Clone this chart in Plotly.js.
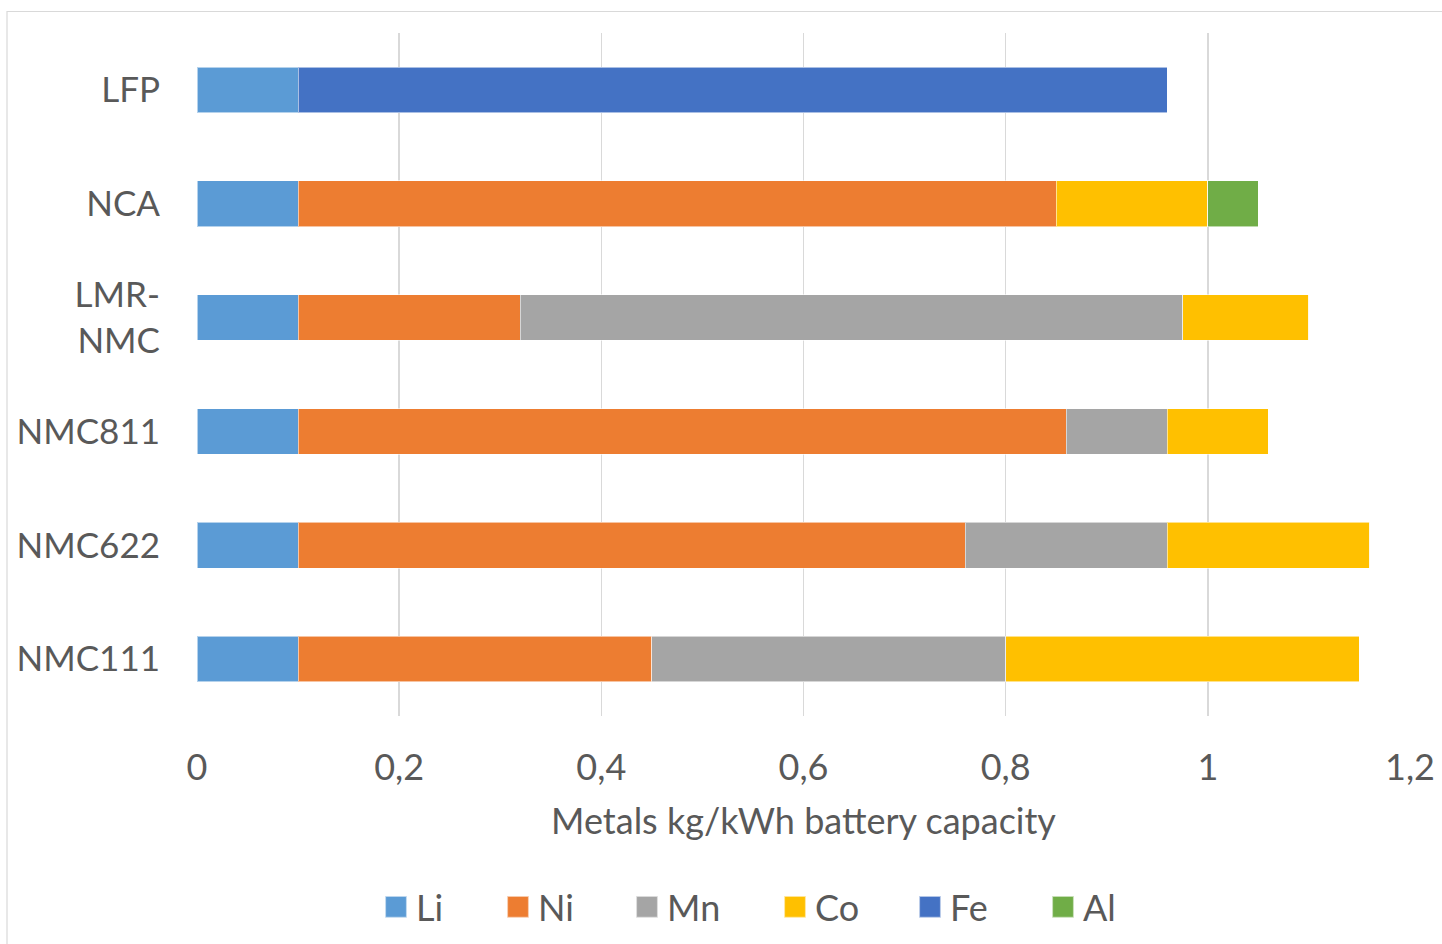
<!DOCTYPE html>
<html>
<head>
<meta charset="utf-8">
<script src="https://cdn.plot.ly/plotly-3.0.1.min.js"></script>
<style>
  html, body { margin: 0; padding: 0; background: #ffffff; }
  #chart { width: 1442px; height: 944px; }
  /* larger legend swatches */
  #chart .legendpoints path { transform: translate(20px, 0) scale(1.8); }
</style>
</head>
<body>
<div id="chart"></div>
<script>
// Battery chemistries, listed top to bottom
const chemistries = ['LFP', 'NCA', 'LMR-NMC', 'NMC811', 'NMC622', 'NMC111'];
const chemistryLabels = ['LFP', 'NCA', 'LMR-<br>NMC', 'NMC811', 'NMC622', 'NMC111'];

// Metal content, kg per kWh of battery capacity
const li = [0.10, 0.10, 0.10, 0.10, 0.10, 0.10];
const ni = [0.00, 0.75, 0.22, 0.76, 0.66, 0.35];
const mn = [0.00, 0.00, 0.655, 0.10, 0.20, 0.35];
const co = [0.00, 0.15, 0.125, 0.10, 0.20, 0.35];
const fe = [0.86, 0.00, 0.00, 0.00, 0.00, 0.00];
const al = [0.00, 0.05, 0.00, 0.00, 0.00, 0.00];

const metalNames = ['Li', 'Ni', 'Mn', 'Co', 'Fe', 'Al'];
const metalValues = [li, ni, mn, co, fe, al];
const metalColors = ['#5B9BD5', '#ED7D31', '#A5A5A5', '#FFC000', '#4472C4', '#70AD47'];

const xTicks = [0, 0.2, 0.4, 0.6, 0.8, 1, 1.2];
const xTickLabels = ['0', '0,2', '0,4', '0,6', '0,8', '1', '1,2'];

// legend entry widths so spacing follows each label
const legendWidths = [77, 84, 103, 90, 88, 40];

const font = 'Lato, "Open Sans", sans-serif';
const textColor = '#595959';

const traces = metalNames.map((name, i) => ({
  type: 'bar',
  orientation: 'h',
  name: name,
  y: chemistries,
  x: metalValues[i],
  marker: { color: metalColors[i], line: { color: 'rgba(255,255,255,0.55)', width: 1 } },
  legendwidth: legendWidths[i],
  hoverinfo: 'x+name'
}));

const layout = {
  width: 1442,
  height: 944,
  barmode: 'stack',
  bargap: 0.6,
  paper_bgcolor: '#ffffff',
  plot_bgcolor: '#ffffff',
  margin: { l: 197, r: 32, t: 33, b: 228, autoexpand: false },
  font: { family: font, color: textColor, size: 36 },
  xaxis: {
    range: [0, 1.2],
    tickvals: xTicks,
    ticktext: xTickLabels,
    showgrid: true,
    gridcolor: '#d9d9d9',
    gridwidth: 1.5,
    zeroline: false,
    showline: false,
    ticks: '',
    ticklabelstandoff: 27,
    tickfont: { family: font, size: 36, color: textColor },
    title: {
      text: 'Metals kg/kWh battery capacity',
      font: { family: font, size: 36, color: textColor },
      standoff: 21
    }
  },
  yaxis: {
    type: 'category',
    categoryorder: 'array',
    categoryarray: chemistries,
    tickvals: chemistries,
    ticktext: chemistryLabels,
    autorange: 'reversed',
    showgrid: false,
    zeroline: false,
    showline: false,
    ticks: '',
    ticklabelstandoff: 36,
    tickfont: { family: font, size: 35, color: textColor }
  },
  showlegend: true,
  legend: {
    orientation: 'h',
    x: (376 - 197) / 1213,
    xanchor: 'left',
    y: (716 - 907) / 683,
    yanchor: 'middle',
    font: { family: font, size: 36, color: textColor },
    bgcolor: 'rgba(0,0,0,0)',
    traceorder: 'normal'
  },
  shapes: [{
    type: 'rect',
    xref: 'paper', yref: 'paper',
    x0: (7 - 197) / 1213, x1: 2,
    y0: -2, y1: (716 - 11.5) / 683,
    line: { color: '#d9d9d9', width: 1.2 },
    fillcolor: 'rgba(0,0,0,0)',
    layer: 'below'
  }]
};

Plotly.newPlot('chart', traces, layout, { displayModeBar: false, staticPlot: true });
</script>
</body>
</html>
